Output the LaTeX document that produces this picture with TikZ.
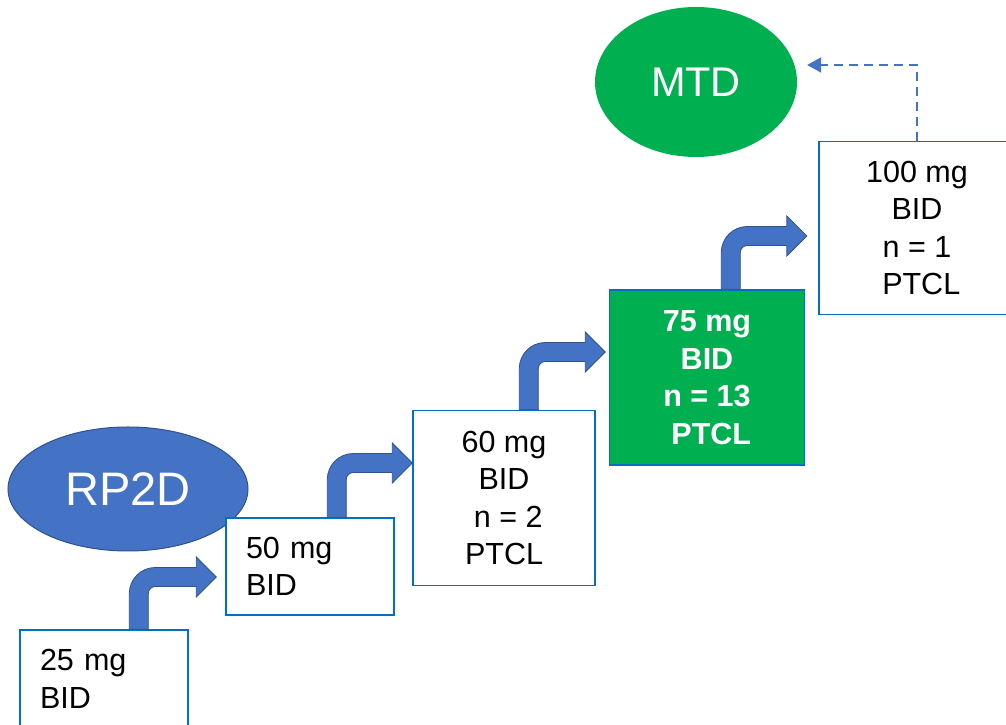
\documentclass[tikz,border=0pt]{standalone}
\usepackage{fontspec}
\setmainfont{Liberation Sans}
\usepackage{tikz}
\usetikzlibrary{arrows.meta, positioning, calc, shapes.geometric}

\definecolor{stepblue}{HTML}{4472C4}
\definecolor{stepedge}{HTML}{2F528F}
\definecolor{boxline}{HTML}{0070C0}
\definecolor{mtdgreen}{HTML}{00B050}

\tikzset{
  dosebox/.style={draw=boxline, line width=1.4pt, fill=white, inner sep=0pt,
                  align=center, font=\fontsize{30.5}{37.5}\selectfont},
  leftbox/.style={dosebox, align=left, text width=128pt, inner xsep=20pt},
  bentarrow/.style={fill=stepblue, draw=stepedge, line width=0.8pt},
  doselimit/.style={ellipse, inner sep=0pt, text=white}
}

% bent step arrow: from node, to node, x offset on top edge, tip offset
\newcommand{\steparrow}[4]{%
  \filldraw[bentarrow] let \p1=($(#1.north west)+(#3,0)$), \p2=($(#2.west)+#4$) in
    ({\x1-9.5pt},\y1) -- ({\x1-9.5pt},{\y2+9.5pt-26pt})
    arc[start angle=180, end angle=90, radius=26pt]
    -- ({\x2-20pt},{\y2+9.5pt}) -- ({\x2-20pt},{\y2+20pt}) -- (\x2,\y2)
    -- ({\x2-20pt},{\y2-20pt}) -- ({\x2-20pt},{\y2-9.5pt})
    -- ({\x1+16.5pt},{\y2-9.5pt})
    arc[start angle=90, end angle=180, radius=7pt] -- ({\x1+9.5pt},\y1) -- cycle;}

\begin{document}
\begin{tikzpicture}[x=1pt, y=1pt]
  \useasboundingbox (0,0) rectangle (1006,725);

  % dose limits
  \node[doselimit, fill=stepblue, draw=stepedge, line width=1pt,
        minimum width=240pt, minimum height=124pt,
        font=\fontsize{47}{52}\selectfont] (rp2d) at (128,236) {RP2D};
  \node[doselimit, fill=mtdgreen, minimum width=202pt, minimum height=150pt,
        font=\fontsize{41.5}{46}\selectfont] (mtd) at (696,643) {MTD};

  % dose levels
  \node[leftbox, minimum width=168pt, minimum height=98pt] (d25) at (104,46)
        {25 mg\\BID};
  \node[leftbox, minimum width=168pt, minimum height=97pt] (d50) at (310,158.5)
        {50 mg\\BID};
  \node[dosebox, minimum width=182pt, minimum height=175pt] (d60) at (504,227)
        {60 mg\\BID\\\ n = 2\\PTCL};
  \node[dosebox, fill=mtdgreen, text=white, minimum width=195pt, minimum height=175pt,
        font=\fontsize{30.5}{37.5}\selectfont\bfseries] (d75) at (707,347.5)
        {75 mg\\BID\\n = 13\\\ PTCL};
  \node[dosebox, minimum width=196pt, minimum height=173pt] (d100) at (917,497)
        {100 mg\\BID\\n = 1\\\ PTCL};

  % escalation
  \steparrow{d25}{d50}{119.5}{(-9,-10.5)}
  \steparrow{d50}{d60}{111.5}{(0,35)}
  \steparrow{d60}{d75}{116.5}{(-3.5,25.5)}
  \steparrow{d75}{d100}{122}{(-11.5,-8)}

  \draw[stepblue, line width=2pt, dash pattern=on 9pt off 6pt,
        -{Triangle[length=14pt, width=15pt]}]
    (d100.north) |- ([xshift=10pt, yshift=17pt]mtd.east);
\end{tikzpicture}
\end{document}
